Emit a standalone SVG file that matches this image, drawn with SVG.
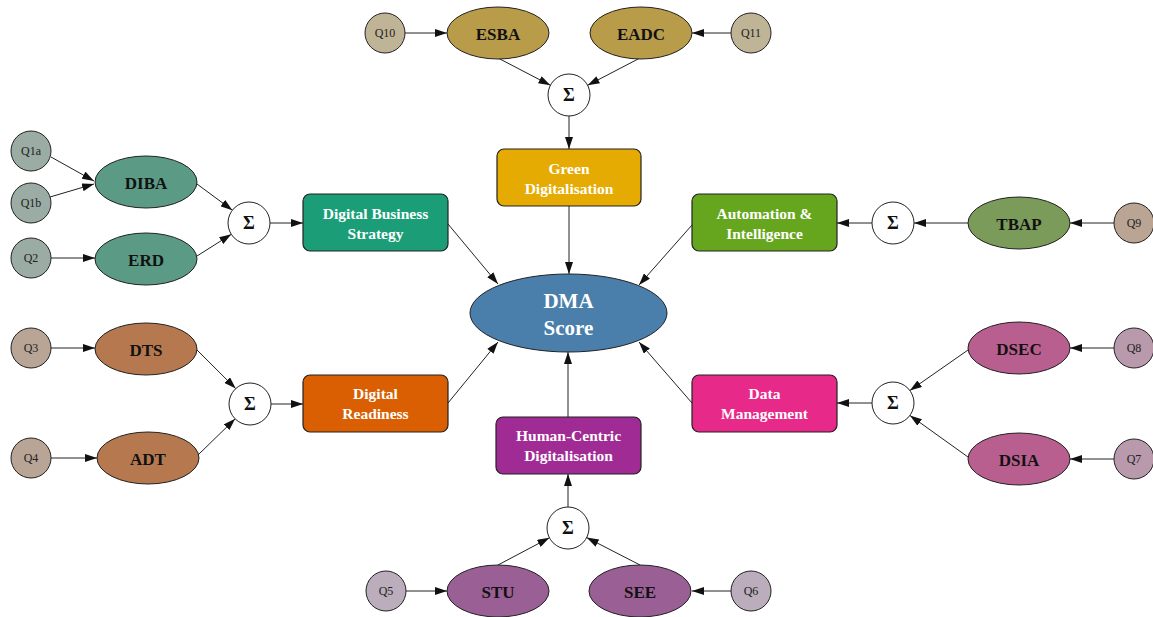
<svg xmlns="http://www.w3.org/2000/svg" width="1153" height="617" viewBox="0 0 1153 617">
<style>
.q{stroke:#222;stroke-width:1}
.qt{font-family:"Liberation Serif",serif;font-size:12px;fill:#222;text-anchor:middle;dominant-baseline:central}
.el{stroke:#222;stroke-width:1}
.et{font-family:"Liberation Serif",serif;font-size:17px;font-weight:bold;fill:#111;text-anchor:middle;dominant-baseline:central}
.box{stroke:#222;stroke-width:1.2}
.bt{font-family:"Liberation Serif",serif;font-size:15.5px;font-weight:bold;fill:#fff;text-anchor:middle}
.sig{fill:#fff;stroke:#222;stroke-width:1}
.st{font-family:"Liberation Serif",serif;font-size:18px;font-weight:bold;fill:#111;text-anchor:middle;dominant-baseline:central}
.e{stroke:#222;stroke-width:1;fill:none;marker-end:url(#ah)}
</style>
<defs>
<marker id="ah" markerUnits="userSpaceOnUse" markerWidth="12" markerHeight="8" refX="12" refY="4" orient="auto">
<path d="M0,0 L12,4 L0,8 z" fill="#111"/>
</marker>
</defs>
<rect width="1153" height="617" fill="#fff"/>

<g id="connectors">
<line class="e" x1="51" y1="157" x2="94" y2="181"/>
<line class="e" x1="50" y1="197" x2="94" y2="184"/>
<line class="e" x1="51" y1="258" x2="95" y2="258"/>
<line class="e" x1="197" y1="184" x2="232.4" y2="210.2"/>
<line class="e" x1="197" y1="256" x2="231.3" y2="234.3"/>
<line class="e" x1="270" y1="223" x2="303" y2="223"/>
<line class="e" x1="51" y1="348" x2="95" y2="348"/>
<line class="e" x1="51" y1="458" x2="97" y2="458"/>
<line class="e" x1="197" y1="350" x2="235.7" y2="388.6"/>
<line class="e" x1="198" y1="455" x2="235.2" y2="418.8"/>
<line class="e" x1="271" y1="404" x2="303" y2="404"/>
<line class="e" x1="405" y1="33" x2="447" y2="33"/>
<line class="e" x1="731" y1="33" x2="692" y2="33"/>
<line class="e" x1="498" y1="58" x2="550.4" y2="85.3"/>
<line class="e" x1="640" y1="58" x2="587.6" y2="85.3"/>
<line class="e" x1="569" y1="116" x2="569" y2="149"/>
<line class="e" x1="1114" y1="223" x2="1070" y2="223"/>
<line class="e" x1="968" y1="223" x2="914" y2="223"/>
<line class="e" x1="872" y1="223" x2="837" y2="223"/>
<line class="e" x1="1114" y1="348" x2="1070" y2="348"/>
<line class="e" x1="1114" y1="459" x2="1070" y2="459"/>
<line class="e" x1="968" y1="350" x2="909.9" y2="390.6"/>
<line class="e" x1="968" y1="457" x2="909.9" y2="415.4"/>
<line class="e" x1="872" y1="403" x2="837" y2="403"/>
<line class="e" x1="406" y1="591" x2="447" y2="591"/>
<line class="e" x1="731" y1="591" x2="692" y2="591"/>
<line class="e" x1="498" y1="565" x2="549.4" y2="537.8"/>
<line class="e" x1="640" y1="565" x2="586.7" y2="537.6"/>
<line class="e" x1="568" y1="507" x2="568" y2="474"/>
<line class="e" x1="448" y1="224" x2="498" y2="284"/>
<line class="e" x1="569" y1="206" x2="569" y2="274"/>
<line class="e" x1="692" y1="225" x2="639" y2="285"/>
<line class="e" x1="448" y1="403" x2="498" y2="342"/>
<line class="e" x1="692" y1="403" x2="639" y2="342"/>
<line class="e" x1="568" y1="417" x2="568" y2="352"/>
</g>

<g id="Q1a"><circle class="q" cx="31" cy="151" r="20" fill="#9aaca3"/><text class="qt" x="31" y="151">Q1a</text></g>
<g id="Q1b"><circle class="q" cx="31" cy="203" r="20" fill="#9aaca3"/><text class="qt" x="31" y="203">Q1b</text></g>
<g id="Q2"><circle class="q" cx="31" cy="258" r="20" fill="#9aaca3"/><text class="qt" x="31" y="258">Q2</text></g>
<g id="Q3"><circle class="q" cx="31" cy="348" r="20" fill="#b8a596"/><text class="qt" x="31" y="348">Q3</text></g>
<g id="Q4"><circle class="q" cx="31" cy="458" r="20" fill="#b8a596"/><text class="qt" x="31" y="458">Q4</text></g>
<g id="Q10"><circle class="q" cx="385" cy="33" r="20" fill="#c0b497"/><text class="qt" x="385" y="33">Q10</text></g>
<g id="Q11"><circle class="q" cx="751" cy="33" r="20" fill="#c0b497"/><text class="qt" x="751" y="33">Q11</text></g>
<g id="Q9"><circle class="q" cx="1134" cy="223" r="20" fill="#baa595"/><text class="qt" x="1134" y="223">Q9</text></g>
<g id="Q8"><circle class="q" cx="1134" cy="348" r="20" fill="#b99aac"/><text class="qt" x="1134" y="348">Q8</text></g>
<g id="Q7"><circle class="q" cx="1134" cy="459" r="20" fill="#b99aac"/><text class="qt" x="1134" y="459">Q7</text></g>
<g id="Q5"><circle class="q" cx="386" cy="591" r="20" fill="#bbadbb"/><text class="qt" x="386" y="591">Q5</text></g>
<g id="Q6"><circle class="q" cx="751" cy="591" r="20" fill="#bbadbb"/><text class="qt" x="751" y="591">Q6</text></g>

<g id="DIBA"><ellipse class="el" cx="146" cy="182" rx="51" ry="26" fill="#5b9a85"/><text class="et" x="146" y="183">DIBA</text></g>
<g id="ERD"><ellipse class="el" cx="146" cy="259" rx="51" ry="26" fill="#5b9a85"/><text class="et" x="146" y="260">ERD</text></g>
<g id="DTS"><ellipse class="el" cx="146" cy="349" rx="51" ry="26" fill="#b6794f"/><text class="et" x="146" y="350">DTS</text></g>
<g id="ADT"><ellipse class="el" cx="148" cy="458" rx="51" ry="26" fill="#b6794f"/><text class="et" x="148" y="459">ADT</text></g>
<g id="ESBA"><ellipse class="el" cx="498" cy="33" rx="51" ry="26" fill="#b99c4a"/><text class="et" x="498" y="34">ESBA</text></g>
<g id="EADC"><ellipse class="el" cx="641" cy="33" rx="51" ry="26" fill="#b99c4a"/><text class="et" x="641" y="34">EADC</text></g>
<g id="TBAP"><ellipse class="el" cx="1019" cy="223" rx="51" ry="26" fill="#7b9b5a"/><text class="et" x="1019" y="224">TBAP</text></g>
<g id="DSEC"><ellipse class="el" cx="1019" cy="348" rx="51" ry="26" fill="#b95f8f"/><text class="et" x="1019" y="349">DSEC</text></g>
<g id="DSIA"><ellipse class="el" cx="1019" cy="459" rx="51" ry="26" fill="#b95f8f"/><text class="et" x="1019" y="460">DSIA</text></g>
<g id="STU"><ellipse class="el" cx="498" cy="591" rx="51" ry="26" fill="#9a5f95"/><text class="et" x="498" y="592">STU</text></g>
<g id="SEE"><ellipse class="el" cx="640" cy="591" rx="51" ry="26" fill="#9a5f95"/><text class="et" x="640" y="592">SEE</text></g>

<g id="sum_dbs"><circle class="sig" cx="249" cy="223" r="21"/><text class="st" x="249" y="223">Σ</text></g>
<g id="sum_dr"><circle class="sig" cx="250" cy="404" r="21"/><text class="st" x="250" y="404">Σ</text></g>
<g id="sum_gd"><circle class="sig" cx="569" cy="95" r="21"/><text class="st" x="569" y="95">Σ</text></g>
<g id="sum_ai"><circle class="sig" cx="893" cy="223" r="21"/><text class="st" x="893" y="223">Σ</text></g>
<g id="sum_dm"><circle class="sig" cx="893" cy="403" r="21"/><text class="st" x="893" y="403">Σ</text></g>
<g id="sum_hcd"><circle class="sig" cx="568" cy="528" r="21"/><text class="st" x="568" y="528">Σ</text></g>

<g id="DBS"><rect class="box" x="303" y="194" width="145" height="57" rx="7" fill="#1b9e77"/><text class="bt" x="375.5" y="219">Digital Business</text><text class="bt" x="375.5" y="239">Strategy</text></g>
<g id="GD"><rect class="box" x="497" y="149" width="144" height="57" rx="7" fill="#e6ab02"/><text class="bt" x="569" y="174">Green</text><text class="bt" x="569" y="194">Digitalisation</text></g>
<g id="AI"><rect class="box" x="692" y="194" width="145" height="57" rx="7" fill="#66a61e"/><text class="bt" x="764.5" y="219">Automation &amp;</text><text class="bt" x="764.5" y="239">Intelligence</text></g>
<g id="DR"><rect class="box" x="303" y="375" width="145" height="57" rx="7" fill="#d95f02"/><text class="bt" x="375.5" y="399">Digital</text><text class="bt" x="375.5" y="419">Readiness</text></g>
<g id="DM"><rect class="box" x="692" y="375" width="145" height="57" rx="7" fill="#e7298a"/><text class="bt" x="764.5" y="399">Data</text><text class="bt" x="764.5" y="419">Management</text></g>
<g id="HCD"><rect class="box" x="496" y="417" width="145" height="57" rx="7" fill="#a12b94"/><text class="bt" x="568.5" y="441">Human-Centric</text><text class="bt" x="568.5" y="461">Digitalisation</text></g>

<g id="DMA"><ellipse class="el" cx="568.5" cy="313" rx="98.5" ry="39" fill="#4a7fab"/><text x="568.5" y="308" font-family="Liberation Serif, serif" font-size="21" font-weight="bold" fill="#fff" text-anchor="middle">DMA</text><text x="568.5" y="335" font-family="Liberation Serif, serif" font-size="21" font-weight="bold" fill="#fff" text-anchor="middle">Score</text></g>
</svg>
